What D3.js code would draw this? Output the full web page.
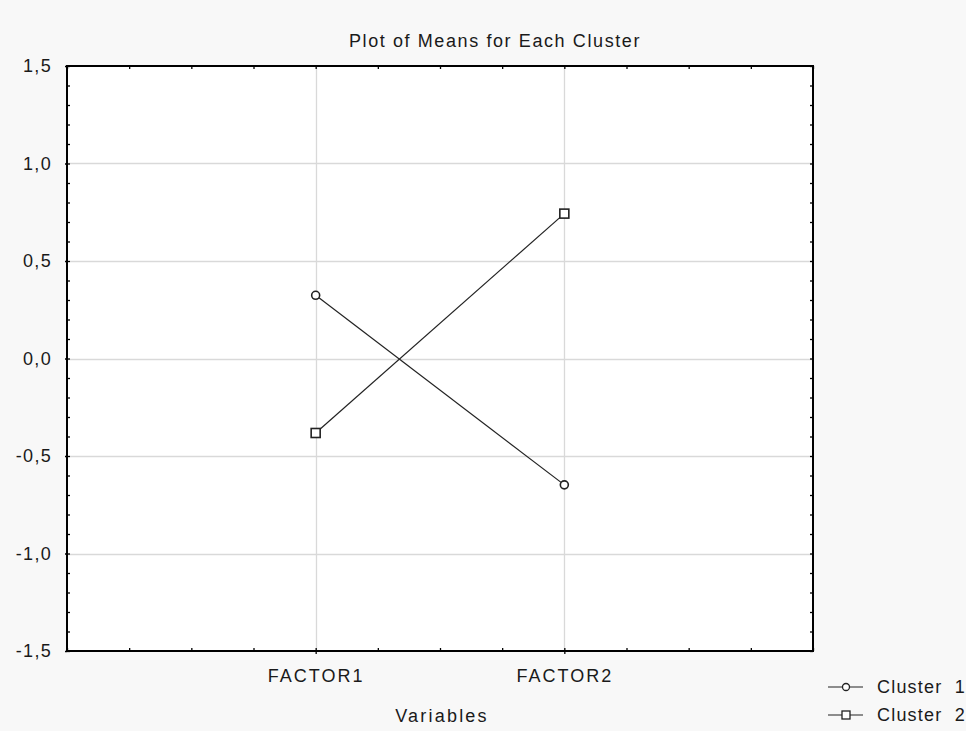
<!DOCTYPE html>
<html><head><meta charset="utf-8">
<script src="https://cdn.jsdelivr.net/npm/d3@7"></script>
<style>
html,body{margin:0;padding:0;background:#f8f8f8;}
svg{display:block;}
text{font-family:"Liberation Sans",Arial,sans-serif;fill:#1a1a1a;}
</style></head>
<body>
<svg id="chart" width="966" height="731"></svg>
<script>
const categories = ["FACTOR1", "FACTOR2"];
const cluster1 = [0.324, -0.648];
const cluster2 = [-0.382, 0.743];
const seriesNames = ["Cluster  1", "Cluster  2"];
const yTicks = [-1.5, -1.0, -0.5, 0.0, 0.5, 1.0, 1.5];
const yTickLabels = ["-1,5", "-1,0", "-0,5", "0,0", "0,5", "1,0", "1,5"];
const title = "Plot of Means for Each Cluster";
const xTitle = "Variables";

const svg = d3.select("#chart");
const L = 67, R = 813, T = 66, B = 651;

const x = d3.scaleLinear().domain([0, categories.length + 1]).range([L, R]);
const y = d3.scaleLinear().domain([-1.5, 1.5]).range([B, T]);

svg.append("rect").attr("x", L).attr("y", T).attr("width", R - L).attr("height", B - T).attr("fill", "#fff");

// gridlines
const grid = svg.append("g");
grid.selectAll("line.h").data(yTicks.slice(1, -1)).enter().append("line")
  .attr("x1", L).attr("x2", R).attr("y1", d => Math.round(y(d)) + 0.5).attr("y2", d => Math.round(y(d)) + 0.5)
  .attr("stroke", "#d9d9d9").attr("stroke-width", 1.3);
grid.selectAll("line.v").data(categories.map((c, i) => i + 1)).enter().append("line")
  .attr("y1", T).attr("y2", B).attr("x1", d => Math.round(x(d)) + 0.5).attr("x2", d => Math.round(x(d)) + 0.5)
  .attr("stroke", "#d9d9d9").attr("stroke-width", 1.3);

// minor ticks
const minorY = d3.range(-15, 16).map(v => v / 10);
const minorX = d3.range(0, 13).map(v => v / 4);
function styleAxis(g) {
  g.select(".domain").remove();
  g.selectAll(".tick line").attr("stroke", "#000").attr("stroke-width", 1.3);
}
svg.append("g").attr("transform", `translate(${L},0)`)
  .call(d3.axisRight(y).tickValues(minorY).tickSize(3).tickFormat("")).call(styleAxis);
svg.append("g").attr("transform", `translate(${R},0)`)
  .call(d3.axisLeft(y).tickValues(minorY).tickSize(3).tickFormat("")).call(styleAxis);
svg.append("g").attr("transform", `translate(0,${B})`)
  .call(d3.axisTop(x).tickValues(minorX).tickSize(3).tickFormat("")).call(styleAxis);
svg.append("g").attr("transform", `translate(0,${T})`)
  .call(d3.axisBottom(x).tickValues(minorX).tickSize(3).tickFormat("")).call(styleAxis);

// major y axis labels
const yAxis = svg.append("g").attr("transform", `translate(${L},0)`)
  .call(d3.axisLeft(y).tickValues(yTicks).tickSize(2).tickPadding(13).tickFormat((d, i) => yTickLabels[i]));
yAxis.select(".domain").remove();
yAxis.selectAll(".tick line").attr("stroke", "#000").attr("stroke-width", 1.3);
yAxis.selectAll("text").attr("font-size", 18).attr("letter-spacing", 1.3)
  .attr("font-family", "Liberation Sans, Arial, sans-serif").attr("fill", "#1a1a1a");

// x axis labels
const xAxis = svg.append("g").attr("transform", `translate(0,${B})`)
  .call(d3.axisBottom(x).tickValues(categories.map((c, i) => i + 1)).tickSize(3).tickPadding(15).tickFormat((d, i) => categories[i]));
xAxis.select(".domain").remove();
xAxis.selectAll(".tick line").attr("stroke", "#000").attr("stroke-width", 1.3);
xAxis.selectAll("text").attr("font-size", 18).attr("letter-spacing", 2)
  .attr("font-family", "Liberation Sans, Arial, sans-serif").attr("fill", "#1a1a1a");

// frame
svg.append("rect").attr("x", L).attr("y", T).attr("width", R - L).attr("height", B - T)
  .attr("fill", "none").attr("stroke", "#000").attr("stroke-width", 2);

// series
const line = d3.line().x((d, i) => x(i + 1)).y(d => y(d));
[cluster1, cluster2].forEach((vals, si) => {
  svg.append("path").datum(vals).attr("d", line).attr("fill", "none").attr("stroke", "#222").attr("stroke-width", 1.2);
  const g = svg.append("g");
  vals.forEach((v, i) => {
    if (si === 0) {
      g.append("circle").attr("cx", x(i + 1)).attr("cy", y(v)).attr("r", 4)
        .attr("fill", "#fff").attr("stroke", "#222").attr("stroke-width", 1.6);
    } else {
      g.append("rect").attr("x", x(i + 1) - 4.5).attr("y", y(v) - 4.5).attr("width", 9).attr("height", 9)
        .attr("fill", "#fff").attr("stroke", "#222").attr("stroke-width", 1.6);
    }
  });
});

// title
svg.append("text").attr("x", 495).attr("y", 47).attr("text-anchor", "middle")
  .attr("font-size", 18).attr("letter-spacing", 1.6).text(title);
svg.append("text").attr("x", 442).attr("y", 722).attr("text-anchor", "middle")
  .attr("font-size", 18).attr("letter-spacing", 2.2).text(xTitle);

// legend
seriesNames.forEach((name, i) => {
  const ly = 687 + i * 28;
  svg.append("line").attr("x1", 828).attr("x2", 863).attr("y1", ly).attr("y2", ly).attr("stroke", "#222").attr("stroke-width", 1.2);
  if (i === 0) {
    svg.append("circle").attr("cx", 846).attr("cy", ly).attr("r", 3.5).attr("fill", "#fff").attr("stroke", "#222").attr("stroke-width", 1.3);
  } else {
    svg.append("rect").attr("x", 842).attr("y", ly - 4).attr("width", 8).attr("height", 8).attr("fill", "#fff").attr("stroke", "#222").attr("stroke-width", 1.3);
  }
  svg.append("text").attr("x", 877).attr("y", ly + 6).attr("font-size", 18).attr("letter-spacing", 1.2)
    .style("white-space", "pre").text(name);
});
</script>
</body></html>
